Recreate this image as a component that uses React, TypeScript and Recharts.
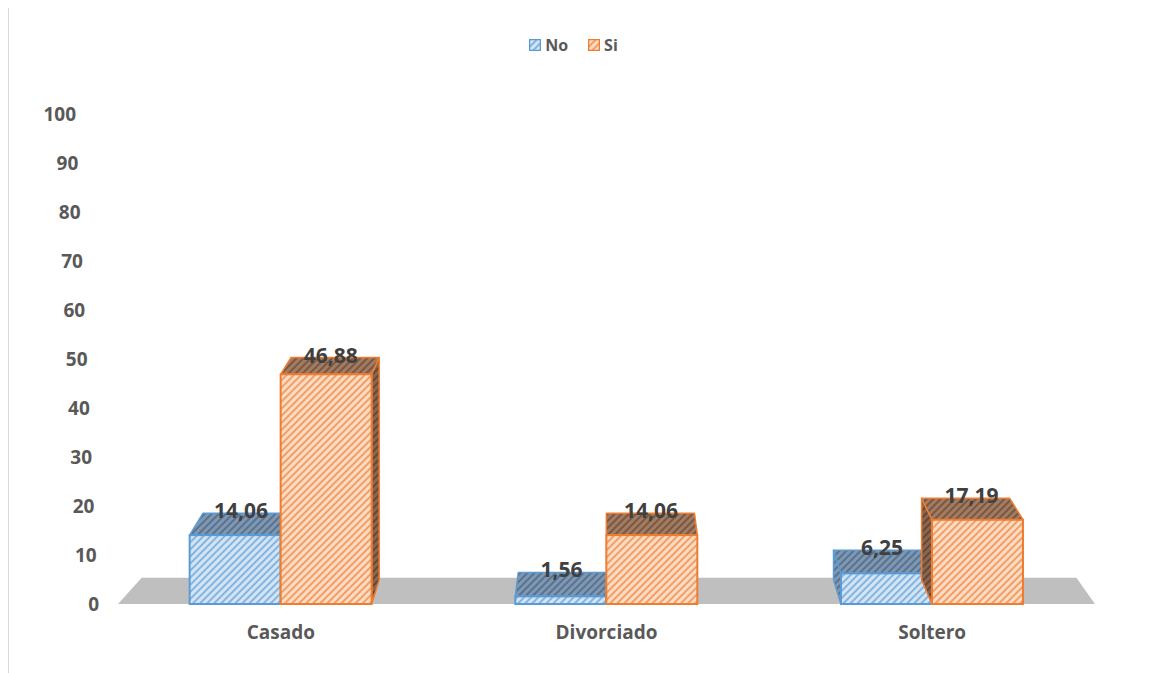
import React from 'react';
import { BarChart, Bar, XAxis, YAxis, Legend, LabelList, ReferenceArea } from 'recharts';

const categories = ['Casado', 'Divorciado', 'Soltero'];
const noValues = [14.06, 1.56, 6.25];
const siValues = [46.88, 14.06, 17.19];
const yTicks = [0, 10, 20, 30, 40, 50, 60, 70, 80, 90, 100];

const data = categories.map((name, i) => ({ name, No: noValues[i], Si: siValues[i] }));

const FONT = '"Open Sans", "DejaVu Sans", sans-serif';

// fake perspective: every back point is pulled toward this vanishing point
const VPX = 599;
const VPY = -158;
const DEPTH = 0.032;
const bx = (x: number) => x + DEPTH * (VPX - x);
const by = (y: number) => y + DEPTH * (VPY - y);
const pts = (a: number[][]) => a.map((q) => q.join(',')).join(' ');

const fmt = (v: number) => v.toFixed(2).replace('.', ',');

function box(edge: string, front: string, top: string, side: string) {
  return (p: any) => {
    const { x, y, width: w, height: h } = p;
    if (w == null || h == null) return <g />;
    const x2 = x + w;
    const y2 = y + h;
    let sideFace: string | null = null;
    if (x2 < VPX) sideFace = pts([[x2, y], [x2, y2], [bx(x2), by(y2)], [bx(x2), by(y)]]);
    else if (x > VPX) sideFace = pts([[x, y], [x, y2], [bx(x), by(y2)], [bx(x), by(y)]]);
    return (
      <g>
        {sideFace && (
          <polygon points={sideFace} fill={side} stroke={edge} strokeWidth={1.5} strokeLinejoin="round" />
        )}
        <polygon
          points={pts([[x, y], [x2, y], [bx(x2), by(y)], [bx(x), by(y)]])}
          fill={top}
          stroke={edge}
          strokeWidth={1.5}
          strokeLinejoin="round"
        />
        <rect x={x} y={y} width={w} height={h} fill={front} stroke={edge} strokeWidth={2} />
      </g>
    );
  };
}

const noShape = box('#5b9bd5', 'url(#noFront)', 'url(#noTop)', 'url(#noTop)');
const siShape = box('#ed7d31', 'url(#siFront)', 'url(#siTop)', 'url(#siSide)');

function Floor(p: any) {
  const { x, y, width, height } = p;
  const fy = y + height;
  const x2 = x + width;
  return (
    <polygon
      points={pts([[x, fy], [x2, fy], [bx(x2) - 3, by(fy) - 2], [bx(x) + 8, by(fy) - 2]])}
      fill="#bfbfbf"
    />
  );
}

function ValueLabel(p: any) {
  const { x, y, width, value } = p;
  const cx = x + width / 2;
  return (
    <text
      x={cx + (bx(cx) - cx) / 2}
      y={by(y) + 5}
      textAnchor="middle"
      fill="#404040"
      fontFamily={FONT}
      fontWeight={700}
      fontSize={21}
    >
      {fmt(value)}
    </text>
  );
}

function YTick(p: any) {
  const { x, y, payload } = p;
  const v = payload.value as number;
  return (
    <text
      x={x - 19 - 0.23 * v}
      y={y}
      dy="0.35em"
      textAnchor="end"
      fill="#595959"
      fontFamily={FONT}
      fontWeight={700}
      fontSize={19}
    >
      {v}
    </text>
  );
}

function hatch(id: string, bg: string, line: string, lw: number) {
  return (
    <pattern id={id} patternUnits="userSpaceOnUse" width={5} height={5} patternTransform="rotate(45)">
      <rect width={5} height={5} fill={bg} />
      <line x1={1} y1={0} x2={1} y2={5} stroke={line} strokeWidth={lw} />
    </pattern>
  );
}

const legendItems = [
  { label: 'No', fill: 'url(#noFront)', edge: '#5b9bd5' },
  { label: 'Si', fill: 'url(#siFront)', edge: '#ed7d31' },
];

function LegendContent() {
  return (
    <div
      style={{
        display: 'flex',
        justifyContent: 'center',
        gap: 20,
        marginLeft: -14,
        fontFamily: FONT,
        fontWeight: 700,
        fontSize: 16,
        color: '#595959',
      }}
    >
      {legendItems.map((it) => (
        <div key={it.label} style={{ display: 'flex', alignItems: 'center', gap: 4 }}>
          <svg width={12} height={12}>
            <rect x={0.5} y={0.5} width={11} height={11} fill={it.fill} stroke={it.edge} strokeWidth={1.5} />
          </svg>
          <span>{it.label}</span>
        </div>
      ))}
    </div>
  );
}

export default function App() {
  return (
    <div
      style={{
        marginLeft: -1,
        marginTop: -2,
        width: 1145,
        height: 667,
        borderTop: '2px solid #d9d9d9',
        borderLeft: '2px solid #d9d9d9',
        background: '#fff',
      }}
    >
      <BarChart
        width={1143}
        height={665}
        data={data}
        margin={{ top: 106, right: 57, left: 0, bottom: 29 }}
        barCategoryGap="22%"
        barGap={0}
      >
        <defs>
          {hatch('noFront', '#d3e4f4', '#5b9bd5', 1.3)}
          {hatch('noTop', '#7f97b0', '#4a6785', 1.5)}
          {hatch('siFront', '#fcdcc4', '#ed7d31', 1.3)}
          {hatch('siTop', '#a27c62', '#6e4a35', 1.5)}
          {hatch('siSide', '#8a6651', '#5a3c2a', 1.5)}
        </defs>
        <XAxis
          dataKey="name"
          axisLine={false}
          tickLine={false}
          tickSize={0}
          tickMargin={22}
          height={40}
          tick={{ fill: '#595959', fontSize: 19, fontWeight: 700, fontFamily: FONT }}
        />
        <YAxis
          domain={[0, 100]}
          ticks={yTicks}
          width={109}
          axisLine={false}
          tickLine={false}
          tickSize={0}
          tickMargin={0}
          tick={<YTick />}
        />
        <ReferenceArea y1={0} y2={100} ifOverflow="visible" shape={<Floor />} />
        <Legend
          verticalAlign="middle"
          align="center"
          layout="horizontal"
          wrapperStyle={{ top: 26, left: 0, width: 1143 }}
          content={<LegendContent />}
        />
        <Bar dataKey="No" shape={noShape} isAnimationActive={false}>
          <LabelList dataKey="No" content={<ValueLabel />} />
        </Bar>
        <Bar dataKey="Si" shape={siShape} isAnimationActive={false}>
          <LabelList dataKey="Si" content={<ValueLabel />} />
        </Bar>
      </BarChart>
    </div>
  );
}
